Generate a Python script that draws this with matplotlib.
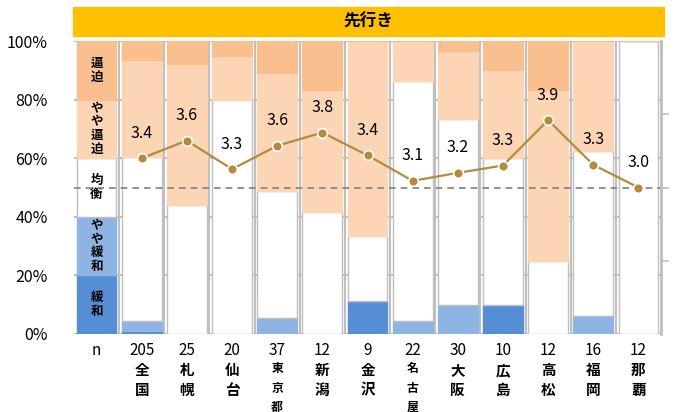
import matplotlib
matplotlib.use('Agg')
import numpy as np
from matplotlib import pyplot as plt
from matplotlib.patches import Rectangle
from matplotlib.transforms import blended_transform_factory

plt.rcParams['font.family'] = ['Noto Sans CJK JP', 'DejaVu Sans']

# 都市と回答数
cities = ['全国', '札幌', '仙台', '東京都', '新潟', '金沢', '名古屋', '大阪', '広島', '高松', '福岡', '那覇']
n = [205, 25, 20, 37, 12, 9, 22, 30, 10, 12, 16, 12]
kanwa = [2, 0, 0, 0, 0, 1, 0, 0, 1, 0, 0, 0]
yaya_kanwa = [7, 0, 0, 2, 0, 0, 1, 3, 0, 0, 1, 0]
kinkou = [115, 11, 16, 16, 5, 2, 18, 19, 5, 3, 9, 12]
yaya_hippaku = [68, 12, 3, 15, 5, 6, 3, 7, 3, 7, 6, 0]
hippaku = [13, 2, 1, 4, 2, 0, 0, 1, 1, 2, 0, 0]
di = [3.40, 3.64, 3.25, 3.57, 3.75, 3.44, 3.09, 3.20, 3.30, 3.92, 3.31, 3.00]

# 凡例用の棒
legend_names = ['緩\n和', 'や\nや\n緩\n和', '均\n衡', 'や\nや\n逼\n迫', '逼\n迫']
legend_vals = [20, 20, 20, 20, 20]

colors = ['#558ED5', '#8EB4E3', 'white', '#FCD5B5', '#FABF8F']
grid_c = '#BFBFBF'

fig = plt.figure(figsize=(6.78, 4.12), dpi=100)
ax = fig.add_axes([74 / 678, 1 - 334 / 412, 587 / 678, 293 / 412])

n_arr = np.array(n, dtype=float)
series = [kanwa, yaya_kanwa, kinkou, yaya_hippaku, hippaku]
xs = np.arange(1, len(cities) + 1)
width = 0.88

# 凡例の棒
bottom = 0
for v, c, name in zip(legend_vals, colors, legend_names):
    ax.bar(0, v, width, bottom=bottom, color=c, edgecolor=grid_c if c == 'white' else c, lw=1, zorder=2)
    ax.text(0, bottom + v / 2, name, ha='center', va='center', fontsize=9, fontweight='bold', linespacing=1.05, zorder=3)
    bottom += v

# 各都市の棒
bottom = np.zeros(len(cities))
for s, c in zip(series, colors):
    pct = np.array(s) / n_arr * 100
    ax.bar(xs, pct, width, bottom=bottom, color=c, edgecolor=grid_c if c == 'white' else c, lw=1, zorder=2)
    bottom += pct

ax.set_xlim(-0.5, 12.5)
ax.set_ylim(0, 100)
ax.set_yticks([0, 20, 40, 60, 80, 100])
ax.set_yticklabels(['0%', '20%', '40%', '60%', '80%', '100%'], fontsize=11.5)
ax.tick_params(axis='y', length=0, pad=19)
ax.set_xticks([])
ax.yaxis.grid(True, color=grid_c, lw=1.5, zorder=0)
for xb in np.arange(0.5, 12.6, 1):
    ax.axvline(xb - (0.08 if xb > 12 else 0), color=grid_c, lw=1.5, zorder=0)
for sp in ax.spines.values():
    sp.set_visible(False)

# x軸ラベル
tr = blended_transform_factory(ax.transData, ax.transAxes)
ax.text(0, -0.055, 'n', transform=tr, ha='center', va='center', fontsize=11)
for x, cnt, name in zip(xs, n, cities):
    ax.text(x, -0.055, str(cnt), transform=tr, ha='center', va='center', fontsize=11)
    if len(name) > 2:
        ax.text(x, -0.097, '\n'.join(name), transform=tr, ha='center', va='top',
                fontsize=8.5, fontweight='bold', linespacing=1.62)
    else:
        ax.text(x, -0.095, '\n'.join(name), transform=tr, ha='center', va='top',
                fontsize=10.5, fontweight='bold', linespacing=1.3)

# DI の折れ線
ax2 = ax.twinx()
ax2.set_ylim(1, 5)
ax2.set_yticks([2, 3, 4])
ax2.set_yticklabels([])
ax2.tick_params(axis='y', length=6, width=1.2, color=grid_c)
for k, sp in ax2.spines.items():
    sp.set_visible(k == 'right')
ax2.spines['right'].set_color(grid_c)
ax2.spines['right'].set_linewidth(2)
ax2.axhline(3.0, color='#808080', lw=1.2, ls=(0, (4, 3)), zorder=1)
line_c = '#B58A3F'
ax2.plot(xs, di, color=line_c, lw=1.6, marker='o', ms=7, mfc=line_c, mec='white', mew=1.2, zorder=4)
for x, v in zip(xs, di):
    ax2.annotate(f'{v + 1e-6:.1f}', (x, v), xytext=(0, 18), textcoords='offset points',
                 ha='center', va='center', fontsize=11.5)

# タイトル帯
fig.patches.append(Rectangle((73 / 678, 1 - 36 / 412), 591 / 678, 29 / 412,
                             transform=fig.transFigure, color='#FFC000', zorder=0))
fig.text(368.5 / 678, 1 - 21.5 / 412, '先行き', ha='center', va='center', fontsize=12, fontweight='bold')

fig.savefig('out.png', dpi=100)
